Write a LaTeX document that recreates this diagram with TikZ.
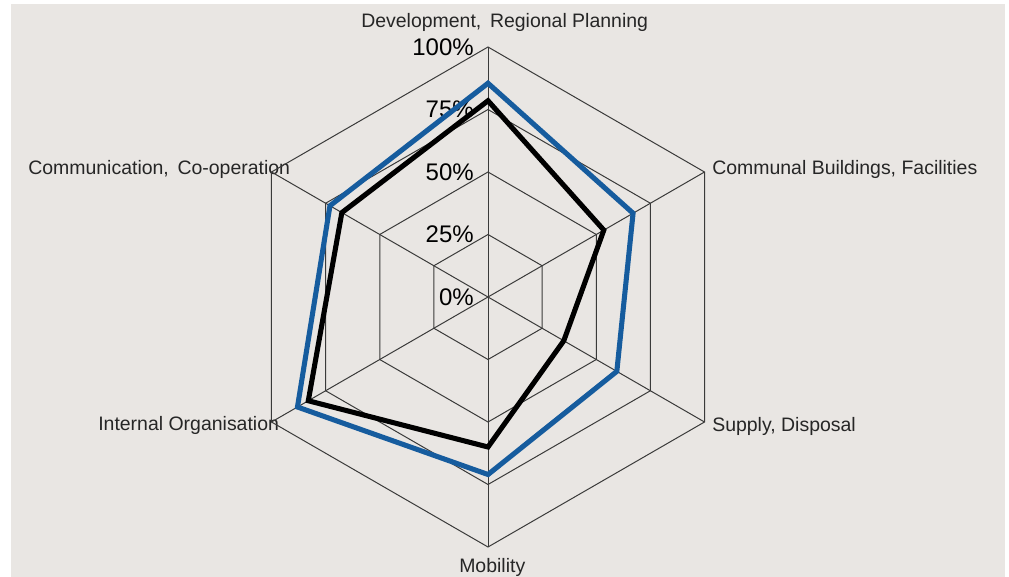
\documentclass[tikz,border=0pt]{standalone}
\usepackage{fontspec}
\setmainfont{Liberation Sans}
\definecolor{bgc}{HTML}{E9E6E3}
\definecolor{gridc}{HTML}{3A3A3A}
\definecolor{serblue}{RGB}{22,92,158}
\begin{document}
\begin{tikzpicture}[x=0.75pt,y=-0.75pt,
  gridline/.style={draw=gridc,line width=0.75pt},
  axislabel/.style={font=\fontsize{14.6}{16}\selectfont,inner sep=0pt,anchor=base west,text=black!85},
  ticklabel/.style={font=\fontsize{18}{20}\selectfont,inner sep=0pt,anchor=base east},
  series/.style={line width=3.8pt,line join=miter,miter limit=10}]
\useasboundingbox (0,0) rectangle (1009,577);
\fill[white] (0,0) rectangle (1009,577);
\fill[bgc] (11,4) rectangle (1005,577);
\coordinate (O) at (488,297);
% tick labels
\node[ticklabel] (t100) at (474,55.5) {100\%};
\node[ticklabel] (t75) at (474,118) {75\%};
\node[ticklabel] (t50) at (474,180.5) {50\%};
\node[ticklabel] (t25) at (474,243) {25\%};
\node[ticklabel] (t0) at (474,305.5) {0\%};
% axis labels
\node[axislabel] (a0) at (361,28) {Development,\, Regional Planning};
\node[axislabel] (a1) at (712,175) {Communal Buildings, Facilities};
\node[axislabel] (a2) at (712,431) {Supply, Disposal};
\node[axislabel] (a3) at (459,572) {Mobility};
\node[axislabel] (a4) at (98,430) {Internal Organisation};
\node[axislabel] (a5) at (28,175) {Communication,\, Co-operation};
% rings
\foreach \r in {62.5,125,187.5,250}{
  \draw[gridline] (488,{297-\r}) \foreach \k in {1,...,5}{ -- ({488+\r*cos(90-60*\k)},{297-\r*sin(90-60*\k)}) } -- cycle;
}
% spokes
\foreach \k in {0,...,5}{
  \coordinate (s\k) at ({488+250*cos(90-60*\k)},{297-250*sin(90-60*\k)});
  \draw[gridline] (O) -- (s\k);
}
% series
\draw[series,serblue] ({488},{297-250*0.855})
  \foreach \k/\v in {1/0.67,2/0.595,3/0.71,4/0.88,5/0.73}{ -- ({488+250*\v*cos(90-60*\k)},{297-250*\v*sin(90-60*\k)}) } -- cycle;
\draw[series,black] ({488},{297-250*0.785})
  \foreach \k/\v in {1/0.535,2/0.35,3/0.60,4/0.83,5/0.675}{ -- ({488+250*\v*cos(90-60*\k)},{297-250*\v*sin(90-60*\k)}) } -- cycle;
\end{tikzpicture}
\end{document}
